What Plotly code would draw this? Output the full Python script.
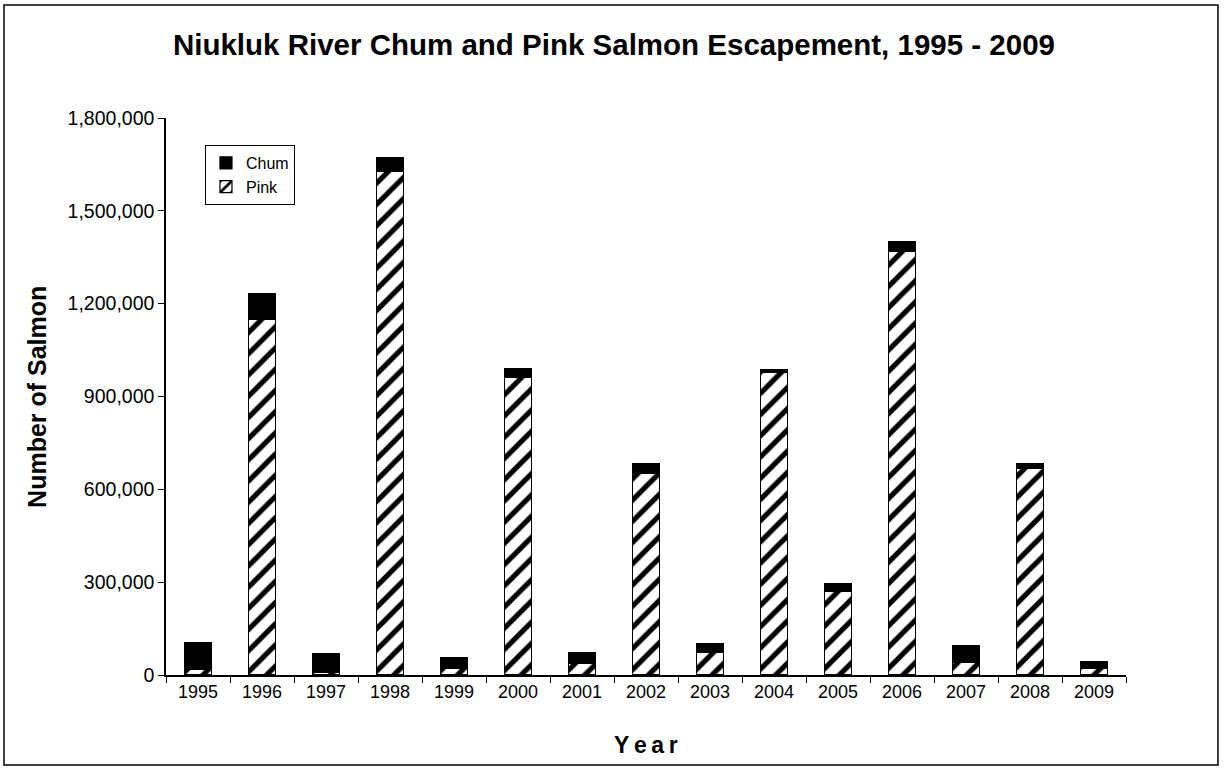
import plotly.graph_objects as go

# Escapement counts
years = ['1995', '1996', '1997', '1998', '1999', '2000', '2001', '2002',
         '2003', '2004', '2005', '2006', '2007', '2008', '2009']
pink = [17000, 1150000, 7000, 1626000, 20000, 962000, 38000, 650000,
        73000, 978000, 269000, 1370000, 42000, 667000, 20000]
chum = [87000, 84000, 62000, 45000, 36000, 29000, 34000, 32000,
        27000, 8000, 25000, 30000, 53000, 17000, 22000]
y_ticks = [0, 300000, 600000, 900000, 1200000, 1500000, 1800000]

font_family = "Liberation Sans, Arial, sans-serif"

fig = go.Figure()

fig.add_trace(go.Bar(
    x=years, y=pink, name='Pink',
    width=0.42,
    marker=dict(
        color='white',
        line=dict(color='black', width=1.2),
        pattern=dict(shape='/', fgcolor='black', bgcolor='white',
                     size=15, solidity=0.35, fillmode='replace'),
    ),
))

fig.add_trace(go.Bar(
    x=years, y=chum, name='Chum',
    width=0.42,
    marker=dict(color='black', line=dict(color='black', width=1.2)),
))

# Outer chart border
fig.add_shape(
    type='rect', xref='paper', yref='paper',
    x0=-0.16875, x1=1.0958, y0=-0.1616, y1=1.2029,
    line=dict(color='black', width=1.5), fillcolor='rgba(0,0,0,0)',
    layer='below'
)

# Axis titles
fig.add_annotation(
    text='<b>Number of Salmon</b>', xref='paper', yref='paper',
    x=-0.135, y=0.5, textangle=-90, showarrow=False,
    font=dict(size=25, color='black', family=font_family),
    xanchor='center', yanchor='middle'
)
fig.add_annotation(
    text='<b>Y&#8201;e&#8201;a&#8201;r</b>', xref='paper', yref='paper',
    x=0.5, y=-0.1257, showarrow=False,
    font=dict(size=23, color='black', family=font_family),
    xanchor='center', yanchor='middle'
)

fig.update_layout(
    width=1225, height=773,
    margin=dict(l=166, r=99, t=118, b=98),
    barmode='stack',
    paper_bgcolor='white',
    plot_bgcolor='white',
    font=dict(family=font_family, color='black', size=18),
    title=dict(
        text='<b>Niukluk River Chum and Pink Salmon Escapement, 1995 - 2009</b>',
        x=0.5012, xanchor='center', y=0.9418, yanchor='middle',
        font=dict(size=29.5, color='black', family=font_family),
    ),
    xaxis=dict(
        type='category',
        showline=True, linecolor='black', linewidth=1.5,
        ticks='outside', ticklen=6, tickcolor='black', tickwidth=1,
        tickson='boundaries',
        showgrid=False, zeroline=False,
        tickfont=dict(size=18),
    ),
    yaxis=dict(
        range=[0, 1800000],
        tickvals=y_ticks,
        tickformat=',d',
        showline=True, linecolor='black', linewidth=1.5,
        ticks='outside', ticklen=6, tickcolor='black', tickwidth=1,
        showgrid=False, zeroline=False,
        tickfont=dict(size=19.5),
    ),
    legend=dict(
        x=0.0406, y=0.9515, xanchor='left', yanchor='top',
        bgcolor='white', bordercolor='black', borderwidth=1,
        traceorder='reversed',
        font=dict(size=16),
        itemwidth=30,
        tracegroupgap=0,
    ),
    showlegend=True,
)

# drop the default page margin so the figure sits at the window origin
fig.write_html("out.html",
               config={'displayModeBar': False},
               post_script="document.body.style.margin='0';"
                           "document.body.style.overflow='hidden';")
